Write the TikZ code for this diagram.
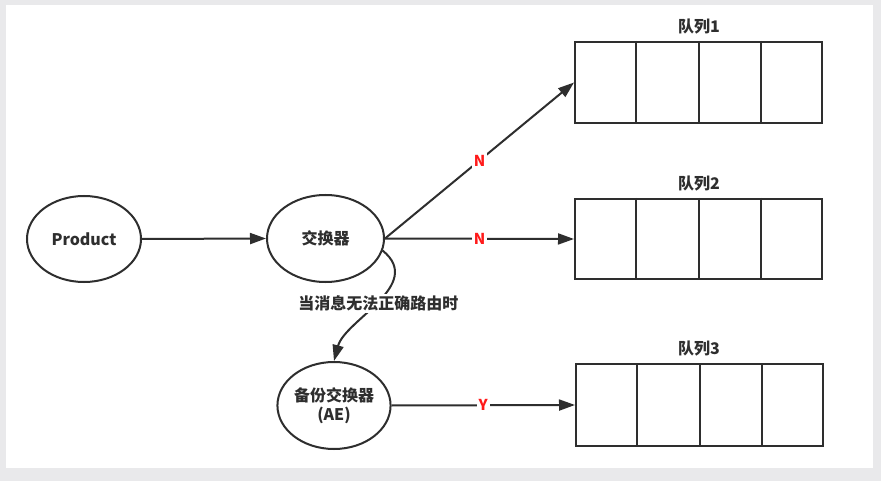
\documentclass[tikz,border=0pt]{standalone}
\usepackage{fontspec}
\setmainfont{Noto Sans CJK SC}
\usetikzlibrary{shapes.geometric,arrows.meta,calc}
\definecolor{ink}{HTML}{2E2E2E}
\definecolor{bgray}{HTML}{E9E9EB}
\definecolor{nred}{HTML}{FF1A1A}
\tikzset{
  ell/.style={ellipse, draw=ink, line width=2pt, inner sep=0pt, font=\bfseries\fontsize{16}{18.5}\selectfont, text=ink, align=center},
  qbox/.style={rectangle, draw=ink, line width=2pt, minimum width=247pt, inner sep=0pt},
  qlbl/.style={font=\bfseries\fontsize{16}{18}\selectfont, text=ink},
  conn/.style={draw=ink, line width=2pt, -{Triangle[length=16pt,width=11pt]}},
  rlbl/.style={fill=white, text=nred, font=\bfseries\fontsize{15}{17}\selectfont, inner sep=2pt},
  clbl/.style={fill=white, text=ink, font=\bfseries\fontsize{16}{18}\selectfont, inner sep=2pt}
}
\begin{document}
\begin{tikzpicture}[x=1pt,y=-1pt]
\useasboundingbox (0,0) rectangle (881,481);
\fill[bgray] (0,0) rectangle (881,481);
\fill[white] (6,5) rectangle (873,468);
% nodes
\node[ell, minimum width=114pt, minimum height=86pt] (prod) at (84,239) {Product};
\node[ell, minimum width=117pt, minimum height=87pt] (ex) at (325.5,238.5) {交换器};
\node[ell, minimum width=112pt, minimum height=87pt] (ae) at (334,405.5) {备份交换器\\(AE)};
\node[qbox, minimum height=81pt] (q1) at (698.5,82.5) {};
\node[qbox, minimum height=80pt] (q2) at (698.5,239) {};
\node[qbox, minimum height=82pt] (q3) at (699.5,405) {};
\node[qlbl] (l1) at (699,27) {队列1};
\node[qlbl] (l2) at (699,184) {队列2};
\node[qlbl] (l3) at (699,349) {队列3};
% queue cells
\foreach \q in {q1,q2,q3}{
  \foreach \f in {0.25,0.5,0.75}{
    \draw[ink, line width=2pt] ($(\q.north west)!\f!(\q.north east)$) -- ($(\q.south west)!\f!(\q.south east)$);
  }
}
% connectors
\draw[conn] (prod.east) -- (ex.west);
\draw[conn] (ex.east) -- node[rlbl] {N} (q1.west);
\draw[conn] (ex.east) -- node[rlbl] {N} (q2.west);
\draw[conn] (ae.east) -- node[rlbl] {Y} (q3.west);
\draw[conn] (ex.-12) .. controls (425,285) and (345,320) .. node[clbl, pos=0.5] {当消息无法正确路由时} (ae.north);
\end{tikzpicture}
\end{document}
